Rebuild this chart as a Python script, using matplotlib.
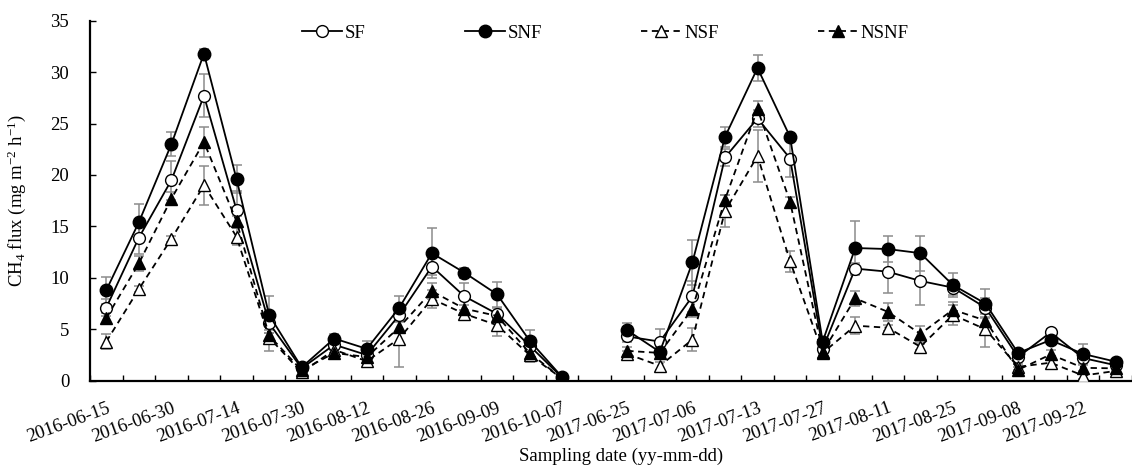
import matplotlib.pyplot as plt
import numpy as np

plt.rcParams['font.family'] = ['Liberation Serif', 'DejaVu Serif']
plt.rcParams['mathtext.fontset'] = 'custom'
plt.rcParams['mathtext.rm'] = 'Liberation Serif'
plt.rcParams['mathtext.it'] = 'Liberation Serif:italic'

nan = np.nan

# tick labels shown on every second sampling
tick_labels = ["2016-06-15", "2016-06-30", "2016-07-14", "2016-07-30",
               "2016-08-12", "2016-08-26", "2016-09-09", "2016-10-07",
               "2017-06-25", "2017-07-06", "2017-07-13", "2017-07-27",
               "2017-08-11", "2017-08-25", "2017-09-08", "2017-09-22"]

# CH4 flux per sampling (index 15 is the gap between the two years)
sf = [7.1, 13.9, 19.5, 27.7, 16.6, 5.6, 1.2, 3.5, 2.5, 6.4, 11.1, 8.2, 6.5, 3.4, 0.3, nan,
      4.3, 3.8, 8.2, 21.7, 25.5, 21.6, 3.1, 10.9, 10.6, 9.7, 9.05, 7.1, 2.3, 4.7, 2.2, 1.5]
snf = [8.8, 15.4, 23.0, 31.8, 19.6, 6.4, 1.3, 4.1, 3.1, 7.1, 12.4, 10.5, 8.4, 3.9, 0.35, nan,
       4.9, 2.8, 11.5, 23.7, 30.4, 23.7, 3.8, 12.9, 12.8, 12.4, 9.3, 7.5, 2.7, 3.95, 2.6, 1.85]
nsf = [3.8, 8.9, 13.8, 19.0, 14.0, 4.2, 0.8, 3.0, 1.9, 4.1, 7.95, 6.5, 5.4, 2.5, 0.2, nan,
       2.6, 1.45, 4.0, 16.5, 21.85, 11.6, 2.7, 5.35, 5.15, 3.3, 6.4, 5.0, 1.35, 1.75, 0.5, 0.95]
nsnf = [6.1, 11.4, 17.7, 23.2, 15.5, 4.4, 1.0, 2.7, 2.3, 5.2, 8.7, 7.0, 6.3, 2.7, 0.2, nan,
        2.9, 2.7, 7.0, 17.6, 26.4, 17.4, 2.8, 8.0, 6.7, 4.55, 6.9, 5.85, 1.05, 2.55, 1.25, 1.2]

sf_err = [0.8, 1.6, 1.9, 2.1, 1.8, 1.0, 0.3, 0.4, 0.4, 0.6, 0.8, 1.3, 0.6, 0.5, 0.1, nan,
          0.5, 1.2, 1.5, 0.8, 0.8, 1.8, 0.4, 0.5, 2.1, 2.3, 0.7, 0.9, 0.3, 0.3, 0.4, 0.3]
snf_err = [1.3, 1.8, 1.2, 0.4, 1.4, 1.8, 0.3, 0.4, 0.8, 1.1, 2.4, 0.5, 1.2, 1.0, 0.1, nan,
           0.7, 0.5, 2.2, 1.0, 1.3, 0.4, 0.4, 2.6, 1.3, 1.7, 1.2, 1.4, 0.3, 0.4, 1.0, 0.3]
nsf_err = [0.7, 0.3, 0.3, 1.9, 0.8, 1.3, 0.2, 0.3, 0.3, 2.8, 0.9, 0.4, 1.1, 0.7, 0.1, nan,
           0.3, 0.4, 1.1, 1.6, 2.5, 1.0, 0.6, 0.8, 0.3, 0.3, 1.0, 1.7, 0.3, 0.5, 0.3, 0.2]
nsnf_err = [0.5, 0.7, 0.6, 1.5, 0.5, 0.5, 0.2, 0.3, 0.3, 0.5, 0.8, 0.4, 0.5, 0.4, 0.1, nan,
            0.4, 0.3, 0.8, 0.5, 0.8, 0.5, 0.3, 0.7, 0.9, 0.8, 0.8, 0.6, 0.3, 0.4, 0.3, 0.2]

x = np.arange(len(sf))
fs = 13.5

fig = plt.figure(figsize=(11.32, 4.67), dpi=100)
ax = fig.add_axes([90 / 1132, 1 - 380.7 / 467, 1 - 90 / 1132, 360 / 467])

series = [
    ("SF", sf, sf_err, dict(ls="-", marker="o", mfc="white", ms=8.5)),
    ("SNF", snf, snf_err, dict(ls="-", marker="o", mfc="black", ms=9)),
    ("NSF", nsf, nsf_err, dict(ls=(0, (3.5, 2.5)), marker="^", mfc="white", ms=8.5)),
    ("NSNF", nsnf, nsnf_err, dict(ls=(0, (3.5, 2.5)), marker="^", mfc="black", ms=8.5)),
]

for name, y, e, st in series:
    ax.errorbar(x, y, yerr=e, fmt="none", ecolor="#8c8c8c", elinewidth=1.1,
                capsize=3.5, capthick=1.1, zorder=2)
for name, y, e, st in series:
    ax.plot(x, y, color="black", lw=1.3, mec="black", mew=1.0, label=name,
            zorder=3, **st)

ax.set_xlim(-0.5, 31.27)
ax.set_ylim(0, 35)
ax.set_yticks(np.arange(0, 36, 5))
ax.set_xticks(np.arange(0, 32, 2))
ax.set_xticklabels(tick_labels, rotation=20, ha="right", va="top",
                   rotation_mode="anchor", fontsize=fs)
ax.set_xticks(np.arange(-0.5, 32, 1), minor=True)
ax.tick_params(axis="x", which="major", length=0, pad=13.5)
ax.tick_params(axis="x", which="minor", direction="in", length=4.5, width=1)
ax.tick_params(axis="y", direction="in", length=4.5, width=1, pad=15,
               labelsize=fs)

for s in ["top", "right"]:
    ax.spines[s].set_visible(False)
for s in ["left", "bottom"]:
    ax.spines[s].set_linewidth(1.6)

ax.set_ylabel("CH$_4$ flux (mg m$^{-2}$ h$^{-1}$)", fontsize=fs)
ax.yaxis.set_label_coords(-0.0595, 0.5)
ax.set_xlabel("Sampling date (yy-mm-dd)", fontsize=fs)
ax.xaxis.set_label_coords(0.51, -0.186)

ax.legend(ncol=4, loc="center left", bbox_to_anchor=(0.2035, 0.966),
          frameon=False, fontsize=fs, borderpad=0, borderaxespad=0,
          handlelength=2.13, handletextpad=0.15, columnspacing=5.3,
          numpoints=1)

fig.savefig("out.png", dpi=100)
